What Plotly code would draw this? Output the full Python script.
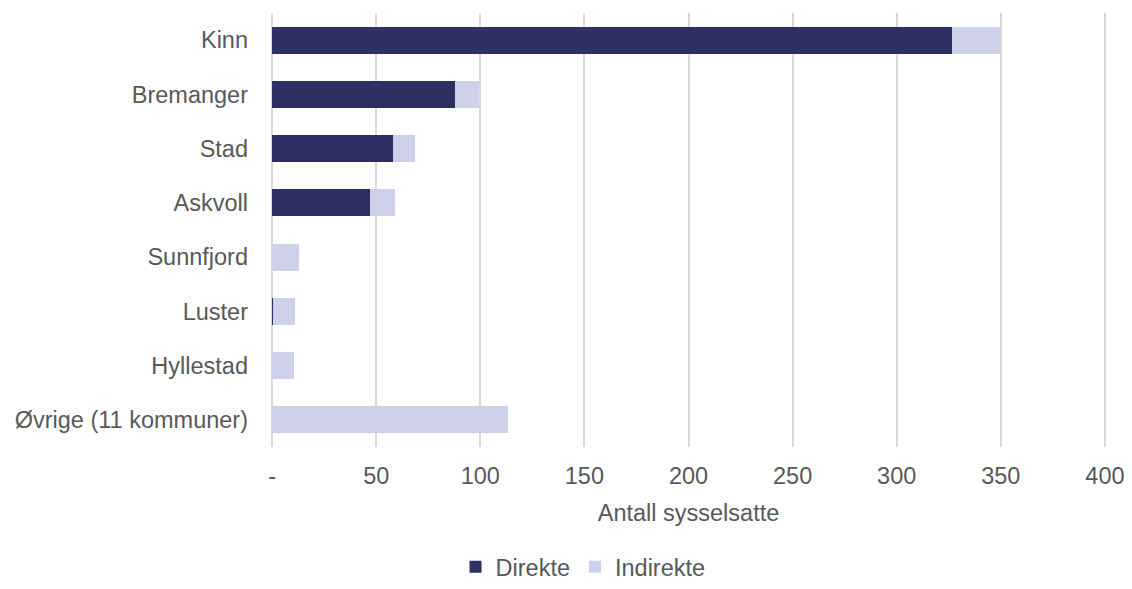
import plotly.graph_objects as go

categories = ["Kinn", "Bremanger", "Stad", "Askvoll", "Sunnfjord", "Luster", "Hyllestad", "Øvrige (11 kommuner)"]
direkte = [326.5, 88, 58, 47, 0, 0.6, 0, 0]
indirekte = [23.3, 11.5, 10.5, 11.8, 13.1, 10.5, 10.6, 113.3]

tick_vals = [0, 50, 100, 150, 200, 250, 300, 350, 400]
tick_text = ["-", "50", "100", "150", "200", "250", "300", "350", "400"]

FONT = "Liberation Sans, Arial, sans-serif"
TXT = "#595959"
FS = 23.5

fig = go.Figure()
fig.add_trace(go.Bar(y=categories, x=direkte, name="Direkte", orientation="h",
                     marker=dict(color="#2e3062", line=dict(width=0))))
fig.add_trace(go.Bar(y=categories, x=indirekte, name="Indirekte", orientation="h",
                     marker=dict(color="#cfd0ea", line=dict(width=0))))

fig.update_layout(
    barmode="stack",
    bargap=0.5,
    width=1124, height=581,
    margin=dict(l=262, r=25, t=5, b=142, autoexpand=False),
    paper_bgcolor="white", plot_bgcolor="white",
    font=dict(family=FONT, size=FS, color=TXT),
    xaxis=dict(range=[-1, 401], tickvals=tick_vals, ticktext=tick_text,
               showgrid=True, gridcolor="#d9d9d9", gridwidth=2, zeroline=False,
               showline=False, ticks="", ticklabelstandoff=12, automargin=False,
               tickfont=dict(size=FS, color=TXT),
               title=dict(text="Antall sysselsatte", standoff=17,
                          font=dict(size=FS, color=TXT))),
    yaxis=dict(autorange="reversed", showgrid=False, zeroline=False, showline=False,
               ticks="", ticklabelstandoff=21, automargin=False,
               tickfont=dict(size=FS, color=TXT)),
    legend=dict(orientation="h", x=0.374, xanchor="center",
                yref="container", y=0.0, yanchor="bottom", itemwidth=30,
                tracegroupgap=0, borderwidth=0,
                font=dict(size=FS, color=TXT), traceorder="normal"),
)
fig.write_html("out.html")
